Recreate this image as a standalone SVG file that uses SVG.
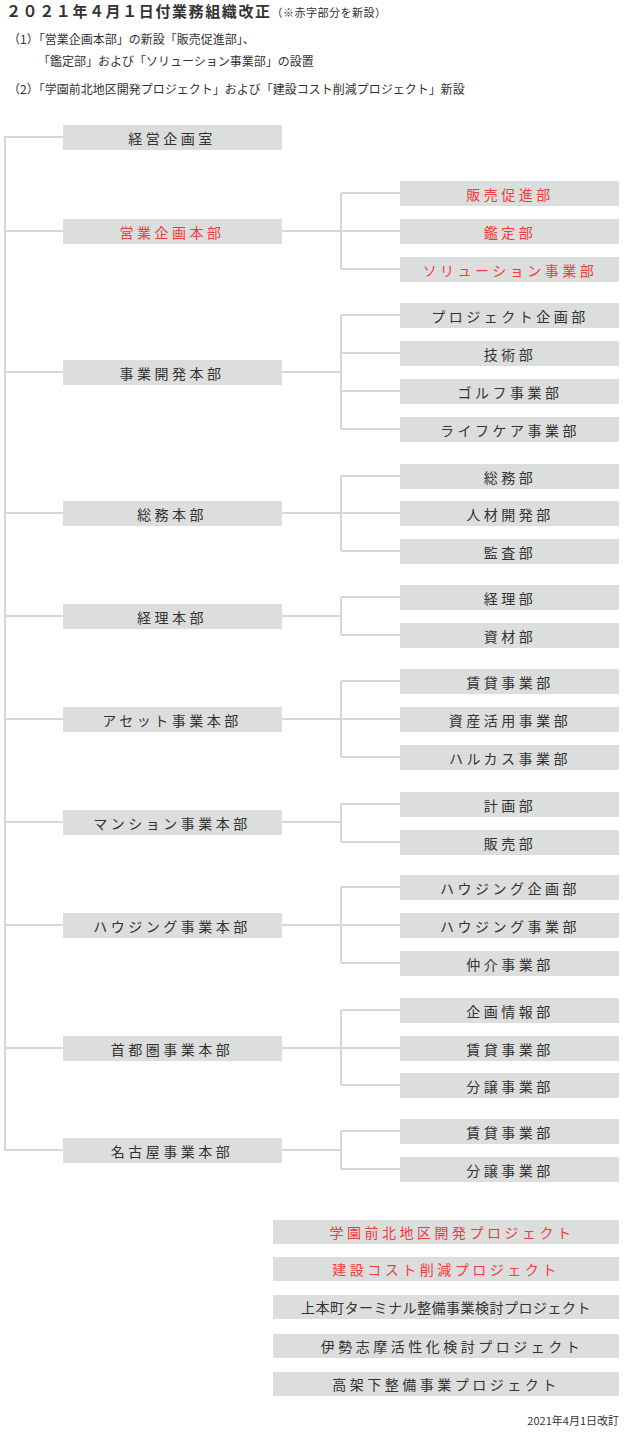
<svg xmlns="http://www.w3.org/2000/svg" width="630" height="1454" viewBox="0 0 630 1454">
<style>
text{font-family:"Noto Sans CJK JP","Noto Sans",sans-serif;fill:#333}
.b rect{fill:#dcdddd}
.b text{font-size:14px;text-anchor:middle;letter-spacing:3.5px;dominant-baseline:central}
.r text{fill:#f03c3c}
.c{stroke:#d6d6d6;stroke-width:2;fill:none}
.h{font-size:12px}
</style>
<rect width="630" height="1454" fill="#fff"/>
<text x="6" y="17" style="font-size:15px;font-weight:bold;letter-spacing:1.6px">２０２１年４月１日付業務組織改正<tspan style="font-size:11px;font-weight:normal;letter-spacing:0.5px">（※赤字部分を新設）</tspan></text>
<text class="h" x="8" y="44">（1）「営業企画本部」の新設「販売促進部」、</text>
<text class="h" x="38" y="66">「鑑定部」および「ソリューション事業部」の設置</text>
<text class="h" x="8" y="94">（2）「学園前北地区開発プロジェクト」および「建設コスト削減プロジェクト」新設</text>
<g id="connectors" class="c">
<path d="M63 137H5V1150H63"/>
<path d="M5 231H63M282 231H400M341 193V269M341 193H400M341 269H400"/>
<path d="M5 372H63M282 372H341M341 315V429M341 315H400M341 353H400M341 391H400M341 429H400"/>
<path d="M5 513H63M282 513H400M341 476V551M341 476H400M341 551H400"/>
<path d="M5 616H63M282 616H341M341 597V635M341 597H400M341 635H400"/>
<path d="M5 719H63M282 719H400M341 681V757M341 681H400M341 757H400"/>
<path d="M5 822H63M282 822H341M341 804V842M341 804H400M341 842H400"/>
<path d="M5 925H63M282 925H400M341 887V963M341 887H400M341 963H400"/>
<path d="M5 1048H63M282 1048H400M341 1010V1085M341 1010H400M341 1085H400"/>
<path d="M282 1150H341M341 1131V1169M341 1131H400M341 1169H400"/>
</g>
<g class="b">
<g id="n1"><rect x="63" y="125" width="219" height="25"/><text x="172" y="137.5">経営企画室</text></g>
<g id="n2" class="r"><rect x="63" y="219" width="219" height="25"/><text x="172" y="231.5">営業企画本部</text></g>
<g id="n2a" class="r"><rect x="400" y="181" width="219" height="25"/><text x="510" y="193.5">販売促進部</text></g>
<g id="n2b" class="r"><rect x="400" y="219" width="219" height="25"/><text x="510" y="231.5">鑑定部</text></g>
<g id="n2c" class="r"><rect x="400" y="257" width="219" height="25"/><text x="510" y="269.5">ソリューション事業部</text></g>
<g id="n3"><rect x="63" y="360" width="219" height="25"/><text x="172" y="372.5">事業開発本部</text></g>
<g id="n3a"><rect x="400" y="303" width="219" height="25"/><text x="510" y="315.5">プロジェクト企画部</text></g>
<g id="n3b"><rect x="400" y="341" width="219" height="25"/><text x="510" y="353.5">技術部</text></g>
<g id="n3c"><rect x="400" y="379" width="219" height="25"/><text x="510" y="391.5">ゴルフ事業部</text></g>
<g id="n3d"><rect x="400" y="417" width="219" height="25"/><text x="510" y="429.5">ライフケア事業部</text></g>
<g id="n4"><rect x="63" y="501" width="219" height="25"/><text x="172" y="513.5">総務本部</text></g>
<g id="n4a"><rect x="400" y="464" width="219" height="25"/><text x="510" y="476.5">総務部</text></g>
<g id="n4b"><rect x="400" y="501" width="219" height="25"/><text x="510" y="513.5">人材開発部</text></g>
<g id="n4c"><rect x="400" y="539" width="219" height="25"/><text x="510" y="551.5">監査部</text></g>
<g id="n5"><rect x="63" y="604" width="219" height="25"/><text x="172" y="616.5">経理本部</text></g>
<g id="n5a"><rect x="400" y="585" width="219" height="25"/><text x="510" y="597.5">経理部</text></g>
<g id="n5b"><rect x="400" y="623" width="219" height="25"/><text x="510" y="635.5">資材部</text></g>
<g id="n6"><rect x="63" y="707" width="219" height="25"/><text x="172" y="719.5">アセット事業本部</text></g>
<g id="n6a"><rect x="400" y="669" width="219" height="25"/><text x="510" y="681.5">賃貸事業部</text></g>
<g id="n6b"><rect x="400" y="707" width="219" height="25"/><text x="510" y="719.5">資産活用事業部</text></g>
<g id="n6c"><rect x="400" y="745" width="219" height="25"/><text x="510" y="757.5">ハルカス事業部</text></g>
<g id="n7"><rect x="63" y="810" width="219" height="25"/><text x="172" y="822.5">マンション事業本部</text></g>
<g id="n7a"><rect x="400" y="792" width="219" height="25"/><text x="510" y="804.5">計画部</text></g>
<g id="n7b"><rect x="400" y="830" width="219" height="25"/><text x="510" y="842.5">販売部</text></g>
<g id="n8"><rect x="63" y="913" width="219" height="25"/><text x="172" y="925.5">ハウジング事業本部</text></g>
<g id="n8a"><rect x="400" y="875" width="219" height="25"/><text x="510" y="887.5">ハウジング企画部</text></g>
<g id="n8b"><rect x="400" y="913" width="219" height="25"/><text x="510" y="925.5">ハウジング事業部</text></g>
<g id="n8c"><rect x="400" y="951" width="219" height="25"/><text x="510" y="963.5">仲介事業部</text></g>
<g id="n9"><rect x="63" y="1036" width="219" height="25"/><text x="172" y="1048.5">首都圏事業本部</text></g>
<g id="n9a"><rect x="400" y="998" width="219" height="25"/><text x="510" y="1010.5">企画情報部</text></g>
<g id="n9b"><rect x="400" y="1036" width="219" height="25"/><text x="510" y="1048.5">賃貸事業部</text></g>
<g id="n9c"><rect x="400" y="1073" width="219" height="25"/><text x="510" y="1085.5">分譲事業部</text></g>
<g id="n10"><rect x="63" y="1138" width="219" height="25"/><text x="172" y="1150.5">名古屋事業本部</text></g>
<g id="n10a"><rect x="400" y="1119" width="219" height="25"/><text x="510" y="1131.5">賃貸事業部</text></g>
<g id="n10b"><rect x="400" y="1157" width="219" height="25"/><text x="510" y="1169.5">分譲事業部</text></g>
<g id="p1" class="r"><rect x="273" y="1220" width="346" height="24"/><text x="452" y="1232">学園前北地区開発プロジェクト</text></g>
<g id="p2" class="r"><rect x="273" y="1257" width="346" height="24"/><text x="446" y="1269">建設コスト削減プロジェクト</text></g>
<g id="p3"><rect x="273" y="1295" width="346" height="24"/><text x="446" y="1307" style="letter-spacing:0.5px">上本町ターミナル整備事業検討プロジェクト</text></g>
<g id="p4"><rect x="273" y="1334" width="346" height="24"/><text x="452" y="1346">伊勢志摩活性化検討プロジェクト</text></g>
<g id="p5"><rect x="273" y="1372" width="346" height="24"/><text x="446" y="1384">高架下整備事業プロジェクト</text></g>
</g>
<text x="619" y="1425" style="font-size:11px;text-anchor:end">2021年4月1日改訂</text>
</svg>
